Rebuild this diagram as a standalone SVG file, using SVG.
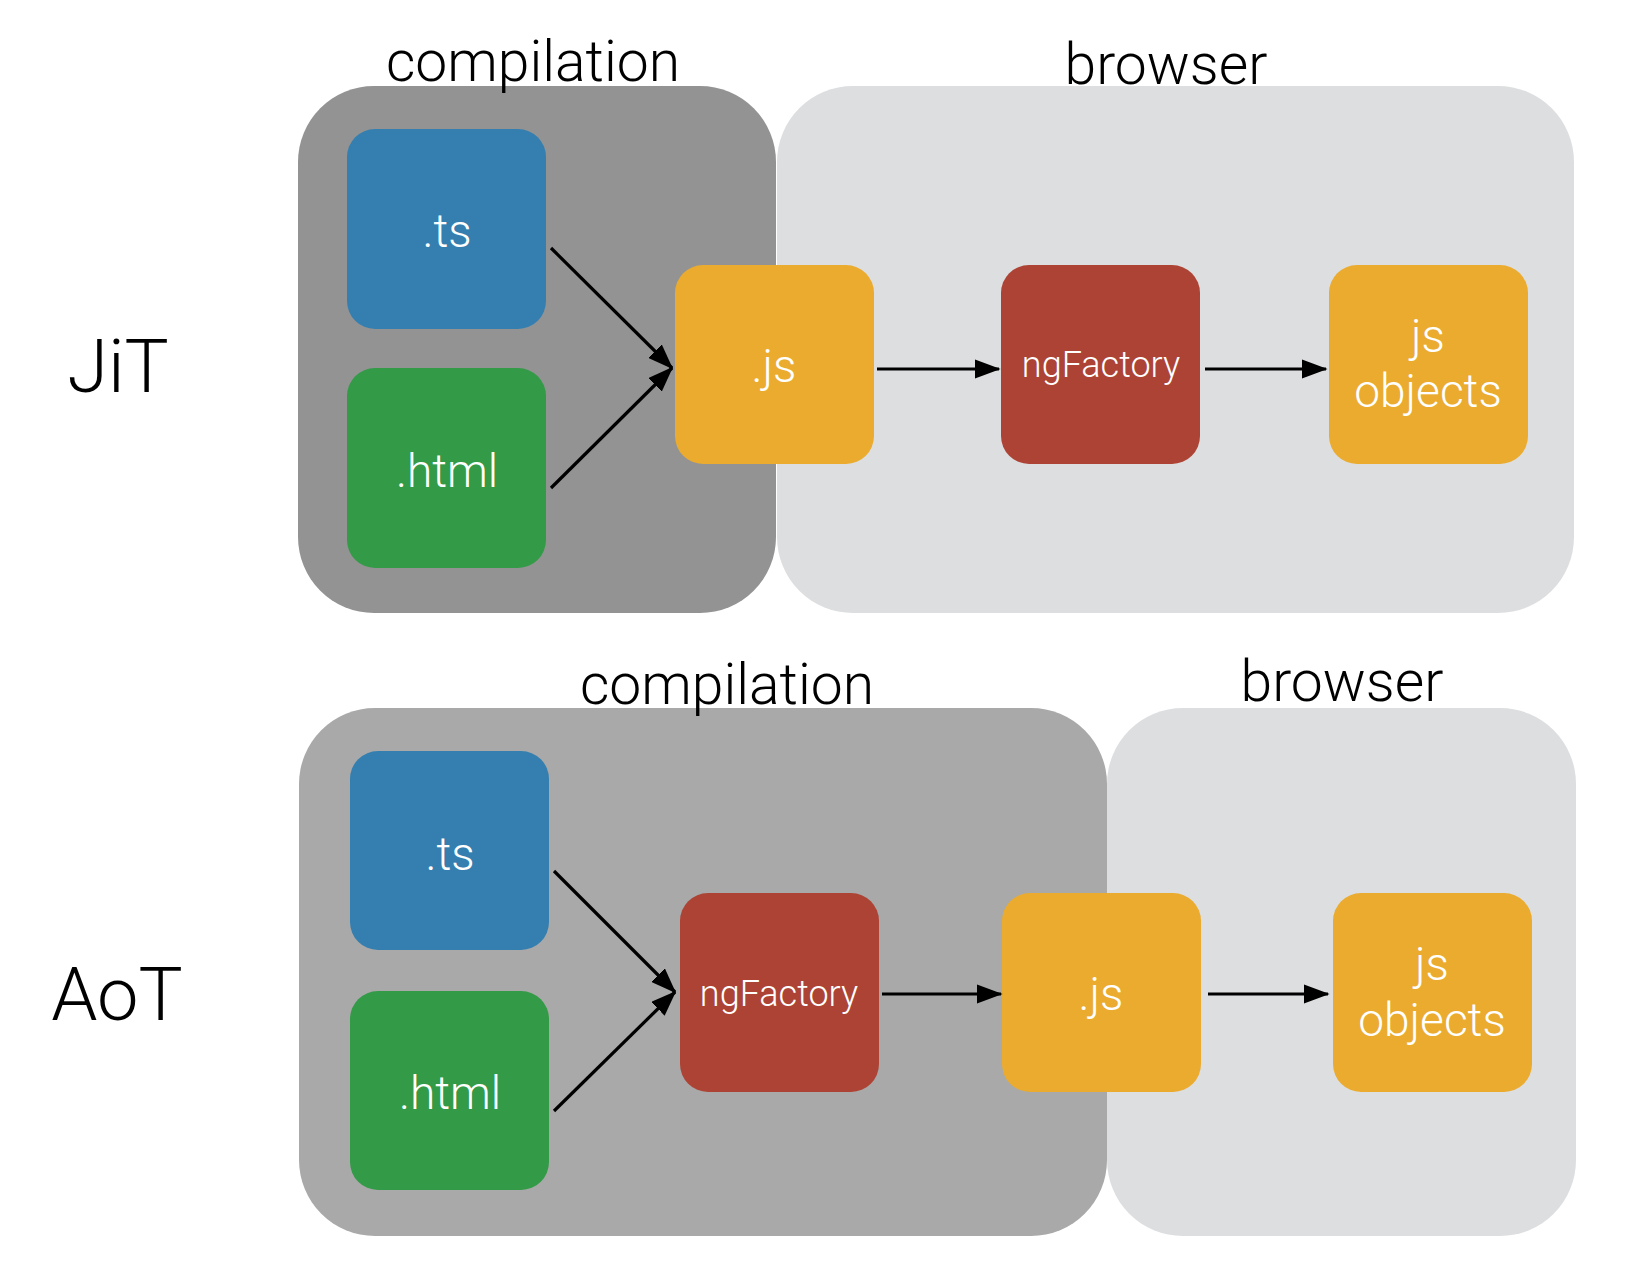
<svg xmlns="http://www.w3.org/2000/svg" width="1640" height="1280" viewBox="0 0 1640 1280">
<style>
.lbl{font-family:Roboto,"Liberation Sans",sans-serif;font-weight:300;fill:#000;text-anchor:middle}
.big{font-size:57px}
.side{font-size:74px}
.t{font-family:Roboto,"Liberation Sans",sans-serif;font-weight:300;fill:#fff;text-anchor:middle;font-size:46px}
.ng{font-size:36px}
.blue{fill:#347fb0}
.green{fill:#339a47}
.orange{fill:#eaab2e}
.red{fill:#ad4334}
.conn line{stroke:#000;stroke-width:3.2;marker-end:url(#ah)}
</style>
<defs>
<marker id="ah" markerWidth="8" markerHeight="6" refX="7.5" refY="3" orient="auto" markerUnits="strokeWidth">
<path d="M0,0 L8,3 L0,6 Z" fill="#000"/>
</marker>
</defs>
<rect width="1640" height="1280" fill="#fff"/>

<!-- JiT row -->
<g id="jit-label"><text class="lbl side" x="118" y="392">JiT</text></g>
<g id="jit-compilation">
<rect x="298" y="86" width="478" height="527" rx="76" fill="#939393"/>
<text class="lbl big" x="533" y="81">compilation</text>
</g>
<g id="jit-browser">
<rect x="777" y="86" width="797" height="527" rx="76" fill="#dddee0"/>
<text class="lbl big" x="1166" y="84">browser</text>
</g>
<g id="jit-ts"><rect class="blue" x="347" y="129" width="199" height="200" rx="28"/><text class="t" x="447" y="247">.ts</text></g>
<g id="jit-html"><rect class="green" x="347" y="368" width="199" height="200" rx="28"/><text class="t" x="447" y="487">.html</text></g>
<g id="jit-js"><rect class="orange" x="675" y="265" width="199" height="199" rx="28"/><text class="t" x="774" y="382">.js</text></g>
<g id="jit-ngfactory"><rect class="red" x="1001" y="265" width="199" height="199" rx="28"/><text class="t ng" x="1101" y="377">ngFactory</text></g>
<g id="jit-objects"><rect class="orange" x="1329" y="265" width="199" height="199" rx="28"/><text class="t" x="1428" y="352">js</text><text class="t" x="1428" y="407">objects</text></g>

<!-- AoT row -->
<g id="aot-label"><text class="lbl side" x="117" y="1020">AoT</text></g>
<g id="aot-compilation">
<rect x="299" y="708" width="808" height="528" rx="76" fill="#a8a9a8"/>
<text class="lbl big" x="727" y="704">compilation</text>
</g>
<g id="aot-browser">
<rect x="1107" y="708" width="469" height="528" rx="76" fill="#dddee0"/>
<text class="lbl big" x="1342" y="701">browser</text>
</g>
<g id="aot-ts"><rect class="blue" x="350" y="751" width="199" height="199" rx="28"/><text class="t" x="450" y="870">.ts</text></g>
<g id="aot-html"><rect class="green" x="350" y="991" width="199" height="199" rx="28"/><text class="t" x="450" y="1109">.html</text></g>
<g id="aot-ngfactory"><rect class="red" x="680" y="893" width="199" height="199" rx="28"/><text class="t ng" x="779" y="1006">ngFactory</text></g>
<g id="aot-js"><rect class="orange" x="1002" y="893" width="199" height="199" rx="28"/><text class="t" x="1101" y="1010">.js</text></g>
<g id="aot-objects"><rect class="orange" x="1333" y="893" width="199" height="199" rx="28"/><text class="t" x="1432" y="980">js</text><text class="t" x="1432" y="1036">objects</text></g>

<g id="connectors" class="conn">
<line x1="551" y1="248" x2="672" y2="368"/>
<line x1="551" y1="488" x2="672" y2="368"/>
<line x1="877" y1="369" x2="999" y2="369"/>
<line x1="1205" y1="369" x2="1326" y2="369"/>
<line x1="554" y1="871" x2="675" y2="992"/>
<line x1="554" y1="1111" x2="675" y2="992"/>
<line x1="882" y1="994" x2="1001" y2="994"/>
<line x1="1208" y1="994" x2="1328" y2="994"/>
</g>
</svg>
